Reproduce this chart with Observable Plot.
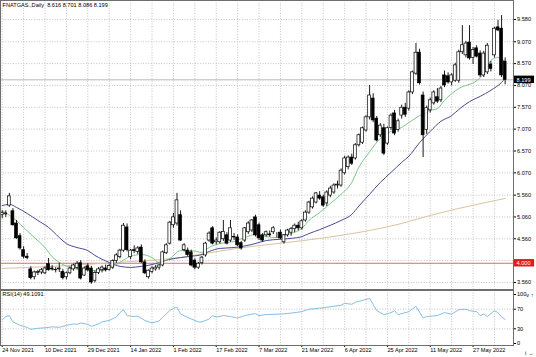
<!DOCTYPE html>
<html><head><meta charset="utf-8">
<script src="https://cdn.jsdelivr.net/npm/d3@7"></script>
<script src="https://cdn.jsdelivr.net/npm/@observablehq/plot@0.6"></script>
<style>
html,body{margin:0;padding:0;background:#fff;}
#chart{width:536px;height:357px;overflow:hidden;background:#fff;}
#chart svg{display:block;}
</style></head><body><div id="chart"></div>
<script>
const symbolTitle = "FNATGAS.,Daily  8.616 8.701 8.086 8.199";
const rsiTitle = "RSI(14) 49.1091";

// Daily OHLC, bar 0 = 24 Nov 2021
const opens = [5.10,5.12,5.32,5.19,4.91,4.62,4.30,4.15,3.86,3.68,3.78,3.79,3.77,3.98,3.88,3.85,3.86,3.80,3.68,3.77,
3.86,3.89,4.00,3.72,3.93,3.88,3.60,3.78,3.84,3.88,3.85,3.90,4.05,4.14,4.29,4.82,4.14,4.30,4.26,4.36,
4.02,3.68,3.80,3.86,3.90,3.95,4.23,4.45,4.87,4.91,5.10,4.30,4.29,4.25,4.06,3.90,4.00,4.18,4.52,4.80,
4.48,4.48,4.55,4.64,4.52,4.60,4.59,4.46,4.52,4.71,4.75,5.05,4.87,4.64,4.64,4.66,4.71,4.64,4.70,4.48,
4.64,4.70,4.78,4.86,4.80,4.98,5.16,5.28,5.39,5.55,5.51,5.37,5.55,5.62,5.78,5.78,6.06,6.20,6.42,6.40,
6.70,6.76,7.04,7.34,7.77,7.31,6.93,7.09,6.74,7.10,7.43,7.05,7.38,7.56,7.54,7.91,8.34,8.82,7.84,7.05,
7.50,7.66,7.80,7.73,8.30,8.28,8.14,8.18,8.18,8.83,8.76,9.05,8.70,8.92,8.80,8.30,8.37,8.55,8.76,9.40,
9.37,8.616];
const highs = [5.20,5.20,5.60,5.25,4.98,4.68,4.38,4.22,3.92,3.82,3.84,3.88,3.92,4.11,3.95,3.90,4.00,3.86,3.80,3.92,
3.98,4.04,4.06,3.92,3.99,3.93,3.82,3.90,3.94,3.96,3.98,4.08,4.22,4.32,4.91,4.90,4.32,4.40,4.38,4.42,
4.08,3.85,3.92,3.95,3.98,4.28,4.45,4.96,5.14,5.60,5.20,4.45,4.35,4.30,4.10,4.02,4.16,4.48,4.72,4.84,
4.58,4.72,4.98,4.70,4.98,4.68,4.65,4.50,4.82,4.95,5.00,5.10,4.92,4.68,4.74,4.74,4.84,4.70,4.76,4.66,
4.78,4.82,4.90,4.94,5.00,5.20,5.42,5.52,5.62,5.64,5.56,5.66,5.76,5.82,5.88,6.16,6.45,6.46,6.50,6.74,
6.96,7.12,7.38,8.07,7.88,7.36,7.20,7.18,7.12,7.42,7.50,7.30,7.62,7.66,7.95,8.40,9.03,8.90,7.92,7.60,
7.78,7.95,8.00,8.05,8.40,8.36,8.34,8.58,8.88,9.44,9.08,9.44,8.94,8.98,8.86,8.85,9.03,8.62,9.40,9.56,
9.67,8.701];
const lows = [5.02,5.05,5.28,4.85,4.55,4.30,4.10,4.08,3.62,3.62,3.72,3.74,3.74,3.82,3.82,3.78,3.79,3.62,3.62,3.74,
3.82,3.85,3.62,3.70,3.80,3.52,3.55,3.74,3.78,3.80,3.82,3.86,4.00,4.10,4.25,4.26,4.08,4.22,4.20,4.00,
3.74,3.64,3.76,3.82,3.84,3.92,4.20,4.42,4.80,4.85,4.50,4.26,4.15,3.92,3.85,3.86,3.96,4.14,4.48,4.42,
4.42,4.44,4.50,4.42,4.48,4.52,4.38,4.30,4.48,4.66,4.70,4.60,4.52,4.48,4.60,4.60,4.66,4.58,4.54,4.44,
4.60,4.62,4.70,4.74,4.76,4.94,5.12,5.24,5.36,5.44,5.28,5.30,5.50,5.58,5.70,5.74,6.02,6.14,6.24,6.36,
6.66,6.72,7.00,7.28,7.22,6.78,6.88,6.47,6.70,7.04,6.92,7.00,7.30,7.34,7.48,7.86,8.30,8.08,6.42,6.95,
7.44,7.62,7.66,7.68,8.02,8.10,8.06,8.14,8.12,8.78,8.70,8.65,8.55,8.70,8.25,8.25,8.32,8.38,8.70,9.30,
8.25,8.086];
const closes = [5.15,5.14,5.53,4.87,4.57,4.34,4.15,4.12,3.66,3.79,3.80,3.84,3.88,3.84,3.86,3.84,3.88,3.66,3.77,3.88,
3.95,3.99,3.65,3.88,3.84,3.56,3.78,3.86,3.90,3.84,3.94,4.05,4.18,4.29,4.86,4.30,4.29,4.28,4.34,4.02,
3.77,3.83,3.88,3.90,3.95,4.25,4.41,4.93,5.05,5.44,4.52,4.41,4.19,3.95,3.90,3.99,4.13,4.45,4.68,4.45,
4.52,4.70,4.72,4.45,4.80,4.59,4.41,4.34,4.80,4.91,4.98,4.64,4.57,4.52,4.71,4.64,4.80,4.64,4.57,4.64,
4.75,4.78,4.86,4.80,4.96,5.16,5.39,5.48,5.60,5.48,5.32,5.62,5.71,5.78,5.80,6.12,6.40,6.42,6.28,6.70,
6.93,7.09,7.34,7.84,7.27,6.81,7.15,6.51,7.09,7.38,6.97,7.25,7.56,7.40,7.91,8.37,8.82,8.12,6.93,7.55,
7.73,7.91,7.70,8.00,8.07,8.14,8.30,8.53,8.83,8.99,9.03,8.69,8.88,8.73,8.30,8.80,8.98,8.45,9.37,9.33,
8.30,8.199];

// Moving averages (bar index, value)
const fastMaIdx = [0,2,4,6,9,12,14,16,19,22,25,28,30,33,36,39,42,44,47,50,53,56,58,61,65,68,71,74,77,80,84,86,89,92,95,98,100,103,106,109,112,114,117,120,122,124,128,133,135,137,139,140,141];
const fastMaVal = [5.21,5.10,4.98,4.82,4.59,4.36,4.15,4.02,3.905,3.86,3.836,3.836,3.88,4.02,4.16,4.20,4.13,4.02,4.11,4.29,4.29,4.25,4.36,4.45,4.50,4.59,4.66,4.61,4.59,4.66,4.80,4.98,5.16,5.37,5.58,5.85,6.20,6.55,6.86,7.02,7.11,7.22,7.38,7.50,7.54,7.73,8.00,8.18,8.34,8.64,8.71,8.69,8.57];
const midMaIdx = [0,2,4,7,10,13,16,18,21,24,26,30,33,36,39,42,44,47,50,53,56,58,61,65,70,74,78,81,84,86,89,92,95,98,100,103,106,109,112,114,117,120,123,126,128,131,134,137,140,141];
const midMaVal = [5.32,5.35,5.28,5.14,4.98,4.82,4.59,4.45,4.36,4.29,4.18,4.02,3.93,3.905,3.93,3.97,4.02,4.09,4.13,4.16,4.20,4.27,4.34,4.36,4.43,4.52,4.55,4.57,4.61,4.68,4.77,4.87,4.98,5.12,5.31,5.58,5.85,6.08,6.31,6.45,6.76,7.02,7.25,7.38,7.52,7.70,7.82,7.96,8.14,8.23];
const slowMaIdx = [0,14,28,37,50,57,70,80,89,100,112,120,128,141];
const slowMaVal = [3.882,3.928,3.997,4.042,4.134,4.226,4.386,4.477,4.569,4.706,4.912,5.095,5.255,5.484];

// RSI(14)
const rsiIdx = [0,1,2,3,5,7,8,10,12,14,16,18,20,21,22,24,25,27,28,30,32,33,34,35,37,38,40,42,44,45,47,48,49,50,53,55,56,58,59,60,62,64,66,68,70,71,72,74,78,81,84,86,89,92,95,96,98,99,100,103,105,106,107,109,110,111,114,116,118,119,122,124,126,128,130,131,133,134,135,136,138,139,140,141];
const rsiVal = [48,55,57,44,37,33,29,31,32,34,33,37,40,39,42,39,35,40,44,47,54,63,69,57,55,56,47,42,46,54,67,72,74,60,50,44,44,50,57,54,57,55,52,57,60,61,57,59,60,62,65,70,72,75,78,82,80,84,86,92,67,63,59,63,67,59,65,76,52,55,57,63,60,69,70,67,65,57,60,55,67,63,54,49.1];

// Axes
const priceTicks = [9.58,9.07,8.57,8.07,7.57,7.07,6.57,6.07,5.56,5.06,4.56,3.56];
const priceGrid = [9.58,9.07,8.57,8.07,7.57,7.07,6.57,6.07,5.56,5.06,4.56,4.06,3.56];
const rsiTicks = [100,70,30,0];
const rsiGrid = [70,30];
const dateIdx = [0,12,24,36,48,60,72,84,96,108,120,132];
const dateLabels = ["24 Nov 2021","10 Dec 2021","29 Dec 2021","14 Jan 2022","1 Feb 2022","17 Feb 2022","7 Mar 2022","21 Mar 2022","6 Apr 2022","25 Apr 2022","11 May 2022","27 May 2022"];
const gridIdx = d3.range(0, 142, 6);
const lastPrice = 8.199;
const levelPrice = 4.000;

const bars = opens.map((o, i) => ({i, o, h: highs[i], l: lows[i], c: closes[i]}));
const pts = (idx, val) => idx.map((i, k) => ({i, v: val[k]}));

const xDomain = [-0.477, 143.34];
const font = {fontFamily: "'Liberation Sans', Arial, sans-serif", fontSize: "5.6px", color: "#000", background: "#fff", overflow: "visible"};
const dotted = {stroke: "#c4c4c4", strokeDasharray: "1,1.6", strokeWidth: 1};

const pricePlot = Plot.plot({
  width: 536, height: 290,
  marginLeft: 0, marginRight: 23, marginTop: 0, marginBottom: 1,
  style: font,
  x: {domain: xDomain, range: [0, 513], axis: null},
  y: {domain: [3.56, 9.58], range: [282, 19]},
  marks: [
    Plot.ruleY(priceGrid, dotted),
    Plot.ruleX(gridIdx, dotted),
    Plot.ruleY([lastPrice], {stroke: "#b8b8b8", strokeWidth: 1}),
    Plot.ruleY([levelPrice], {stroke: "#e06a6a", strokeWidth: 1}),
    Plot.line(pts(slowMaIdx, slowMaVal), {x: "i", y: "v", stroke: "#d9c3a0", strokeWidth: 1, curve: "monotone-x"}),
    Plot.line(pts(midMaIdx, midMaVal), {x: "i", y: "v", stroke: "#4a4a92", strokeWidth: 1, curve: "monotone-x"}),
    Plot.line(pts(fastMaIdx, fastMaVal), {x: "i", y: "v", stroke: "#6cbf7a", strokeWidth: 0.9, curve: "monotone-x"}),
    Plot.ruleX(bars, {x: "i", y1: "l", y2: "h", stroke: "#000", strokeWidth: 0.9}),
    Plot.rect(bars, {x1: d => d.i - 0.4, x2: d => d.i + 0.4, y1: "o", y2: "c",
      fill: d => d.c >= d.o ? "#fff" : "#000", stroke: "#000", strokeWidth: 0.7}),
    Plot.axisY({anchor: "right", ticks: priceTicks, tickFormat: d => d.toFixed(3), tickSize: 2, tickPadding: 1.5, fill: "#000", stroke: "#000"}),
    Plot.rect([lastPrice], {x1: () => xDomain[1], x2: () => xDomain[1] + 5.9, y1: d => d - 0.085, y2: d => d + 0.085, fill: "#000"}),
    Plot.text([lastPrice], {y: d => d, frameAnchor: "right", dx: 3, textAnchor: "start", text: d => d.toFixed(3), fill: "#fff"}),
    Plot.rect([levelPrice], {x1: () => xDomain[1], x2: () => xDomain[1] + 5.9, y1: d => d - 0.085, y2: d => d + 0.085, fill: "#e3191c"}),
    Plot.text([levelPrice], {y: d => d, frameAnchor: "right", dx: 3, textAnchor: "start", text: d => d.toFixed(3), fill: "#fff"}),
    Plot.frame({stroke: "#6e6e6e"}),
    Plot.text([symbolTitle], {frameAnchor: "top-left", dx: 2, dy: 3, lineAnchor: "top", text: d => d, fill: "#000"})
  ]
});

const rsiPlot = Plot.plot({
  width: 536, height: 67,
  marginLeft: 0, marginRight: 23, marginTop: 0, marginBottom: 12,
  style: font,
  x: {domain: xDomain, range: [0, 513]},
  y: {domain: [0, 100], range: [53, 4]},
  marks: [
    Plot.ruleY(rsiGrid, dotted),
    Plot.ruleX(gridIdx, dotted),
    Plot.line(pts(rsiIdx, rsiVal), {x: "i", y: "v", stroke: "#86bfe3", strokeWidth: 1}),
    Plot.axisY({anchor: "right", ticks: rsiTicks, tickFormat: d => String(d), tickSize: 2, tickPadding: 1.5, fill: "#000", stroke: "#000"}),
    Plot.axisX({anchor: "bottom", ticks: dateIdx, tickFormat: d => dateLabels[dateIdx.indexOf(d)], tickSize: 2, tickPadding: 1, textAnchor: "start", fill: "#000", stroke: "#000"}),
    Plot.frame({stroke: "#6e6e6e"}),
    Plot.text([rsiTitle], {frameAnchor: "top-left", dx: 2, dy: 2, lineAnchor: "top", text: d => d, fill: "#000"})
  ]
});

const root = document.getElementById("chart");
root.appendChild(pricePlot);
root.appendChild(rsiPlot);
</script>
</body></html>
